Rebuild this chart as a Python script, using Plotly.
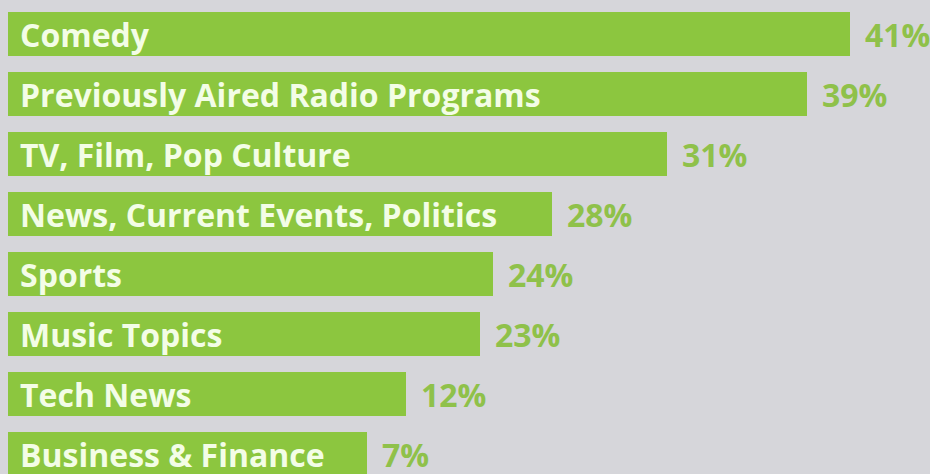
import plotly.graph_objects as go

categories = ["Comedy", "Previously Aired Radio Programs", "TV, Film, Pop Culture",
              "News, Current Events, Politics", "Sports", "Music Topics",
              "Tech News", "Business & Finance"]
percent_values = [41, 39, 31, 28, 24, 23, 12, 7]
# displayed bar extents (the infographic pads short bars so the labels fit)
bar_extent = [41, 38.9, 32.1, 26.5, 23.6, 23.0, 19.4, 17.5]
percent_labels = [f"{v}%" for v in percent_values]

BG = "#d6d6da"
GREEN = "#8cc63f"
LABEL_GREEN = "#8fc14a"
FONT = "Open Sans"

idx = list(range(len(categories)))

fig = go.Figure()
fig.add_trace(go.Bar(
    x=bar_extent, y=idx, orientation="h",
    marker=dict(color=GREEN, line=dict(width=0)),
    width=0.717, hoverinfo="skip", showlegend=False,
))

annotations = []
for i, (cat, ext, lab) in enumerate(zip(categories, bar_extent, percent_labels)):
    annotations.append(dict(
        x=0, y=i, xref="x", yref="y", text=f"<b>{cat}</b>", showarrow=False,
        xanchor="left", yanchor="middle", xshift=10, yshift=0,
        font=dict(family=FONT, size=32, color="#f3fde6"),
    ))
    annotations.append(dict(
        x=ext, y=i, xref="x", yref="y", text=f"<b>{lab}</b>", showarrow=False,
        xanchor="left", yanchor="middle", xshift=13, yshift=0,
        font=dict(family=FONT, size=32, color=LABEL_GREEN),
    ))

fig.update_layout(
    width=930, height=474,
    margin=dict(l=0, r=0, t=0, b=0),
    paper_bgcolor=BG, plot_bgcolor=BG,
    xaxis=dict(range=[-8 / 20.54, 922 / 20.54], visible=False, fixedrange=True),
    yaxis=dict(range=[440 / 60, -34 / 60], visible=False, fixedrange=True),
    annotations=annotations,
    bargap=0,
)

fig.write_html("out.html", config={"displayModeBar": False},
               post_script="document.body.style.margin='0';document.body.style.overflow='hidden';")
